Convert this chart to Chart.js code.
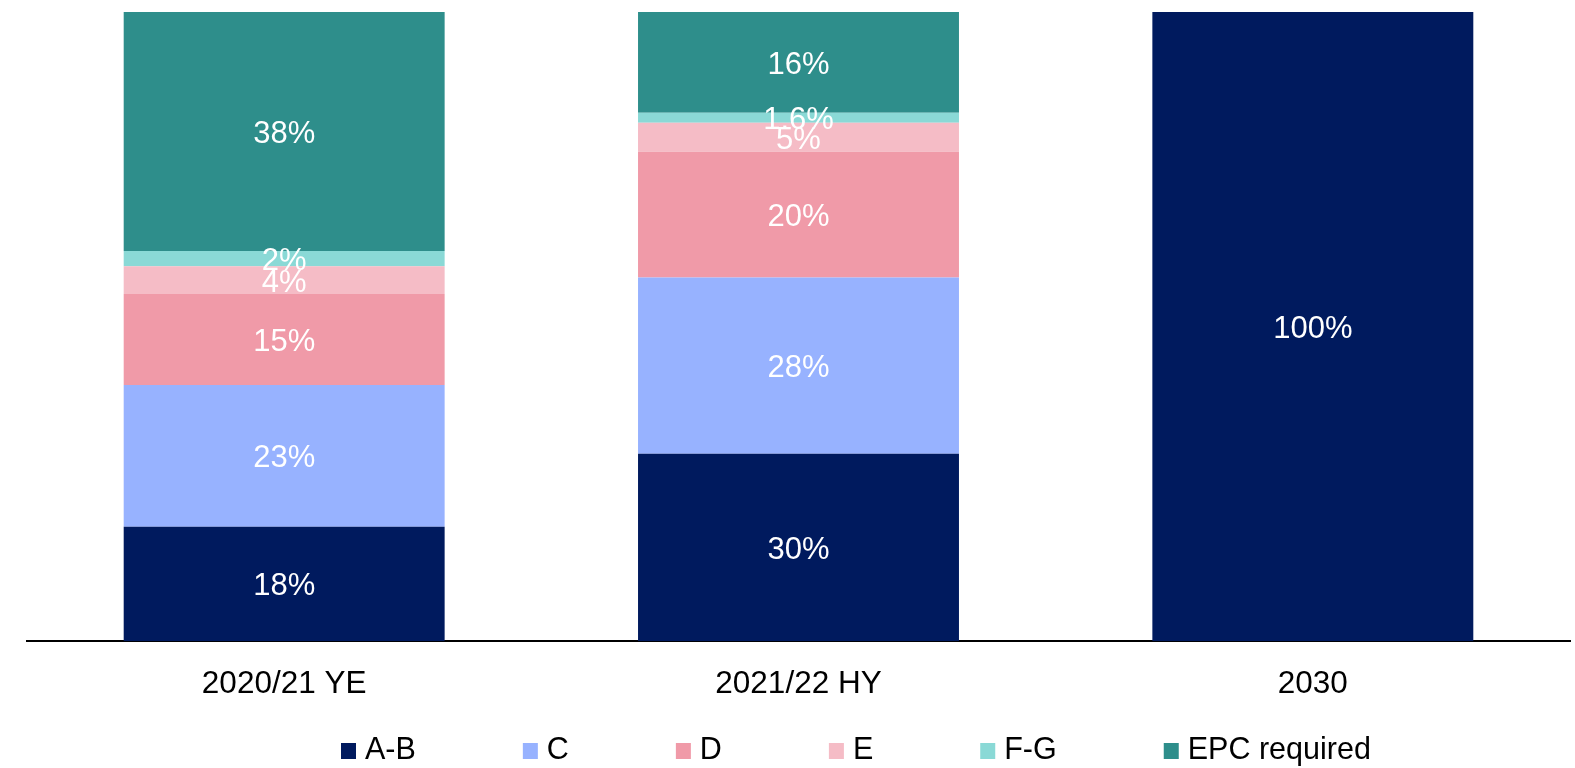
<!DOCTYPE html>
<html>
<head>
<meta charset="utf-8">
<script src="https://cdn.jsdelivr.net/npm/chart.js@4.4.1/dist/chart.umd.min.js"></script>
<style>
  html, body { margin: 0; padding: 0; background: #ffffff; }
  #wrap { width: 1575px; height: 768px; position: relative; }
</style>
</head>
<body>
<div id="wrap"><canvas id="miGrafica"></canvas></div>
<script>
const etiquetas = ["2020/21 YE", "2021/22 HY", "2030"]
const datosAB = [18.2, 29.8, 100]
const datosC = [22.5, 28, 0]
const datosD = [14.5, 20, 0]
const datosE = [4.4, 4.6, 0]
const datosFG = [2.4, 1.6, 0]
const datosEPC = [38, 16, 0]

const fuente = "'Liberation Sans', Arial, sans-serif"

// etiquetas blancas dentro de cada tramo
const etiquetasTramo = {
    id: "etiquetasTramo",
    afterDatasetsDraw(chart) {
        const ctx = chart.ctx
        ctx.save()
        ctx.fillStyle = "#ffffff"
        ctx.font = "31px " + fuente
        ctx.textAlign = "center"
        ctx.textBaseline = "middle"
        chart.data.datasets.forEach((ds, i) => {
            const meta = chart.getDatasetMeta(i)
            meta.data.forEach((bar, j) => {
                const v = ds.data[j]
                if (!v) return
                const texto = (v < 2 ? v.toFixed(1) : Math.round(v)) + "%"
                ctx.fillText(texto, bar.x, (bar.y + bar.base) / 2 + 3)
            })
        })
        ctx.restore()
    }
}

// leyenda dibujada a mano (estilo Excel)
const leyenda = {
    id: "leyenda",
    afterDraw(chart) {
        const ctx = chart.ctx
        ctx.save()
        ctx.font = "30.5px " + fuente
        ctx.textBaseline = "middle"
        let x = 341
        const y = 751
        chart.data.datasets.forEach(ds => {
            ctx.fillStyle = ds.backgroundColor
            ctx.fillRect(x, y - 8, 15, 16)
            x += 15 + 9
            ctx.fillStyle = "#000000"
            ctx.fillText(ds.label, x, y)
            x += ctx.measureText(ds.label).width + 107
        })
        ctx.restore()
    }
}

const ctx = document.getElementById("miGrafica").getContext("2d")
new Chart(ctx, {
    type: "bar",
    data: {
        labels: etiquetas,
        datasets: [
            { label: "A-B", data: datosAB, backgroundColor: "#001A5E" },
            { label: "C", data: datosC, backgroundColor: "#97B2FF" },
            { label: "D", data: datosD, backgroundColor: "#F09AA8" },
            { label: "E", data: datosE, backgroundColor: "#F5BCC6" },
            { label: "F-G", data: datosFG, backgroundColor: "#8AD9D6" },
            { label: "EPC required", data: datosEPC, backgroundColor: "#2E8E8B" }
        ]
    },
    options: {
        responsive: true,
        maintainAspectRatio: false,
        animation: false,
        categoryPercentage: 1,
        barPercentage: 0.624,
        layout: { padding: { top: 12, left: 27, right: 5, bottom: 41 } },
        plugins: {
            legend: { display: false },
            tooltip: { enabled: false }
        },
        scales: {
            x: {
                stacked: true,
                grid: { display: false, drawTicks: false },
                border: { display: true, color: "#000000", width: 2 },
                ticks: { color: "#000000", padding: 24, font: { size: 31.5, family: fuente } }
            },
            y: {
                stacked: true,
                display: false,
                min: 0,
                max: 100
            }
        }
    },
    plugins: [etiquetasTramo, leyenda]
})
</script>
</body>
</html>
